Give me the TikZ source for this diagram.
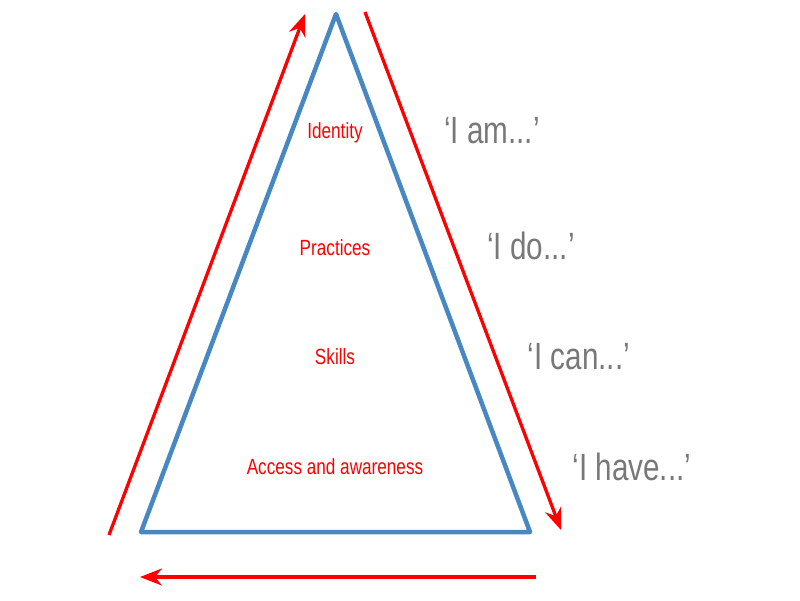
\documentclass[tikz,border=0pt]{standalone}
\usepackage{fontspec}
\setmainfont{Liberation Sans}
\newfontfamily\condfont[FakeStretch=0.78]{Liberation Sans}
\usetikzlibrary{arrows.meta}
\definecolor{triblue}{RGB}{72,136,194}
\definecolor{txtgray}{RGB}{120,120,120}
\tikzset{
  tri/.style={draw=triblue, line width=4.5pt, line join=round},
  redarrow/.style={draw=red, line width=3.3pt, -{Stealth[length=22pt,width=17pt]}},
  level/.style={text=red, font=\condfont\fontsize{22}{26}\selectfont},
  said/.style={text=txtgray, font=\condfont\fontsize{38}{44}\selectfont}
}
\begin{document}
\begin{tikzpicture}[x=1pt,y=-1pt]
\useasboundingbox (0,0) rectangle (800,600);
\coordinate (apex) at (336,14);
\coordinate (bl) at (141,532);
\coordinate (br) at (530,532);
\draw[tri] (apex) -- (bl) -- (br) -- cycle;
\coordinate (la) at (109,535);
\coordinate (lb) at (305,14);
\coordinate (ra) at (365,12);
\coordinate (rb) at (561,530);
\coordinate (ba) at (536,577);
\coordinate (bb) at (140,577);
\draw[redarrow] (la) -- (lb);
\draw[redarrow] (ra) -- (rb);
\draw[redarrow] (ba) -- (bb);
\node[level] (identity) at (335,133) {Identity};
\node[level] (practices) at (335,248) {Practices};
\node[level] (skills) at (335,357) {Skills};
\node[level] (access) at (335,467) {Access and awareness};
\node[said] (iam) at (492,131) {‘I am...’};
\node[said] (ido) at (531,246) {‘I do...’};
\node[said] (ican) at (579,357) {‘I can...’};
\node[said] (ihave) at (632,467) {‘I have...’};
\end{tikzpicture}
\end{document}
